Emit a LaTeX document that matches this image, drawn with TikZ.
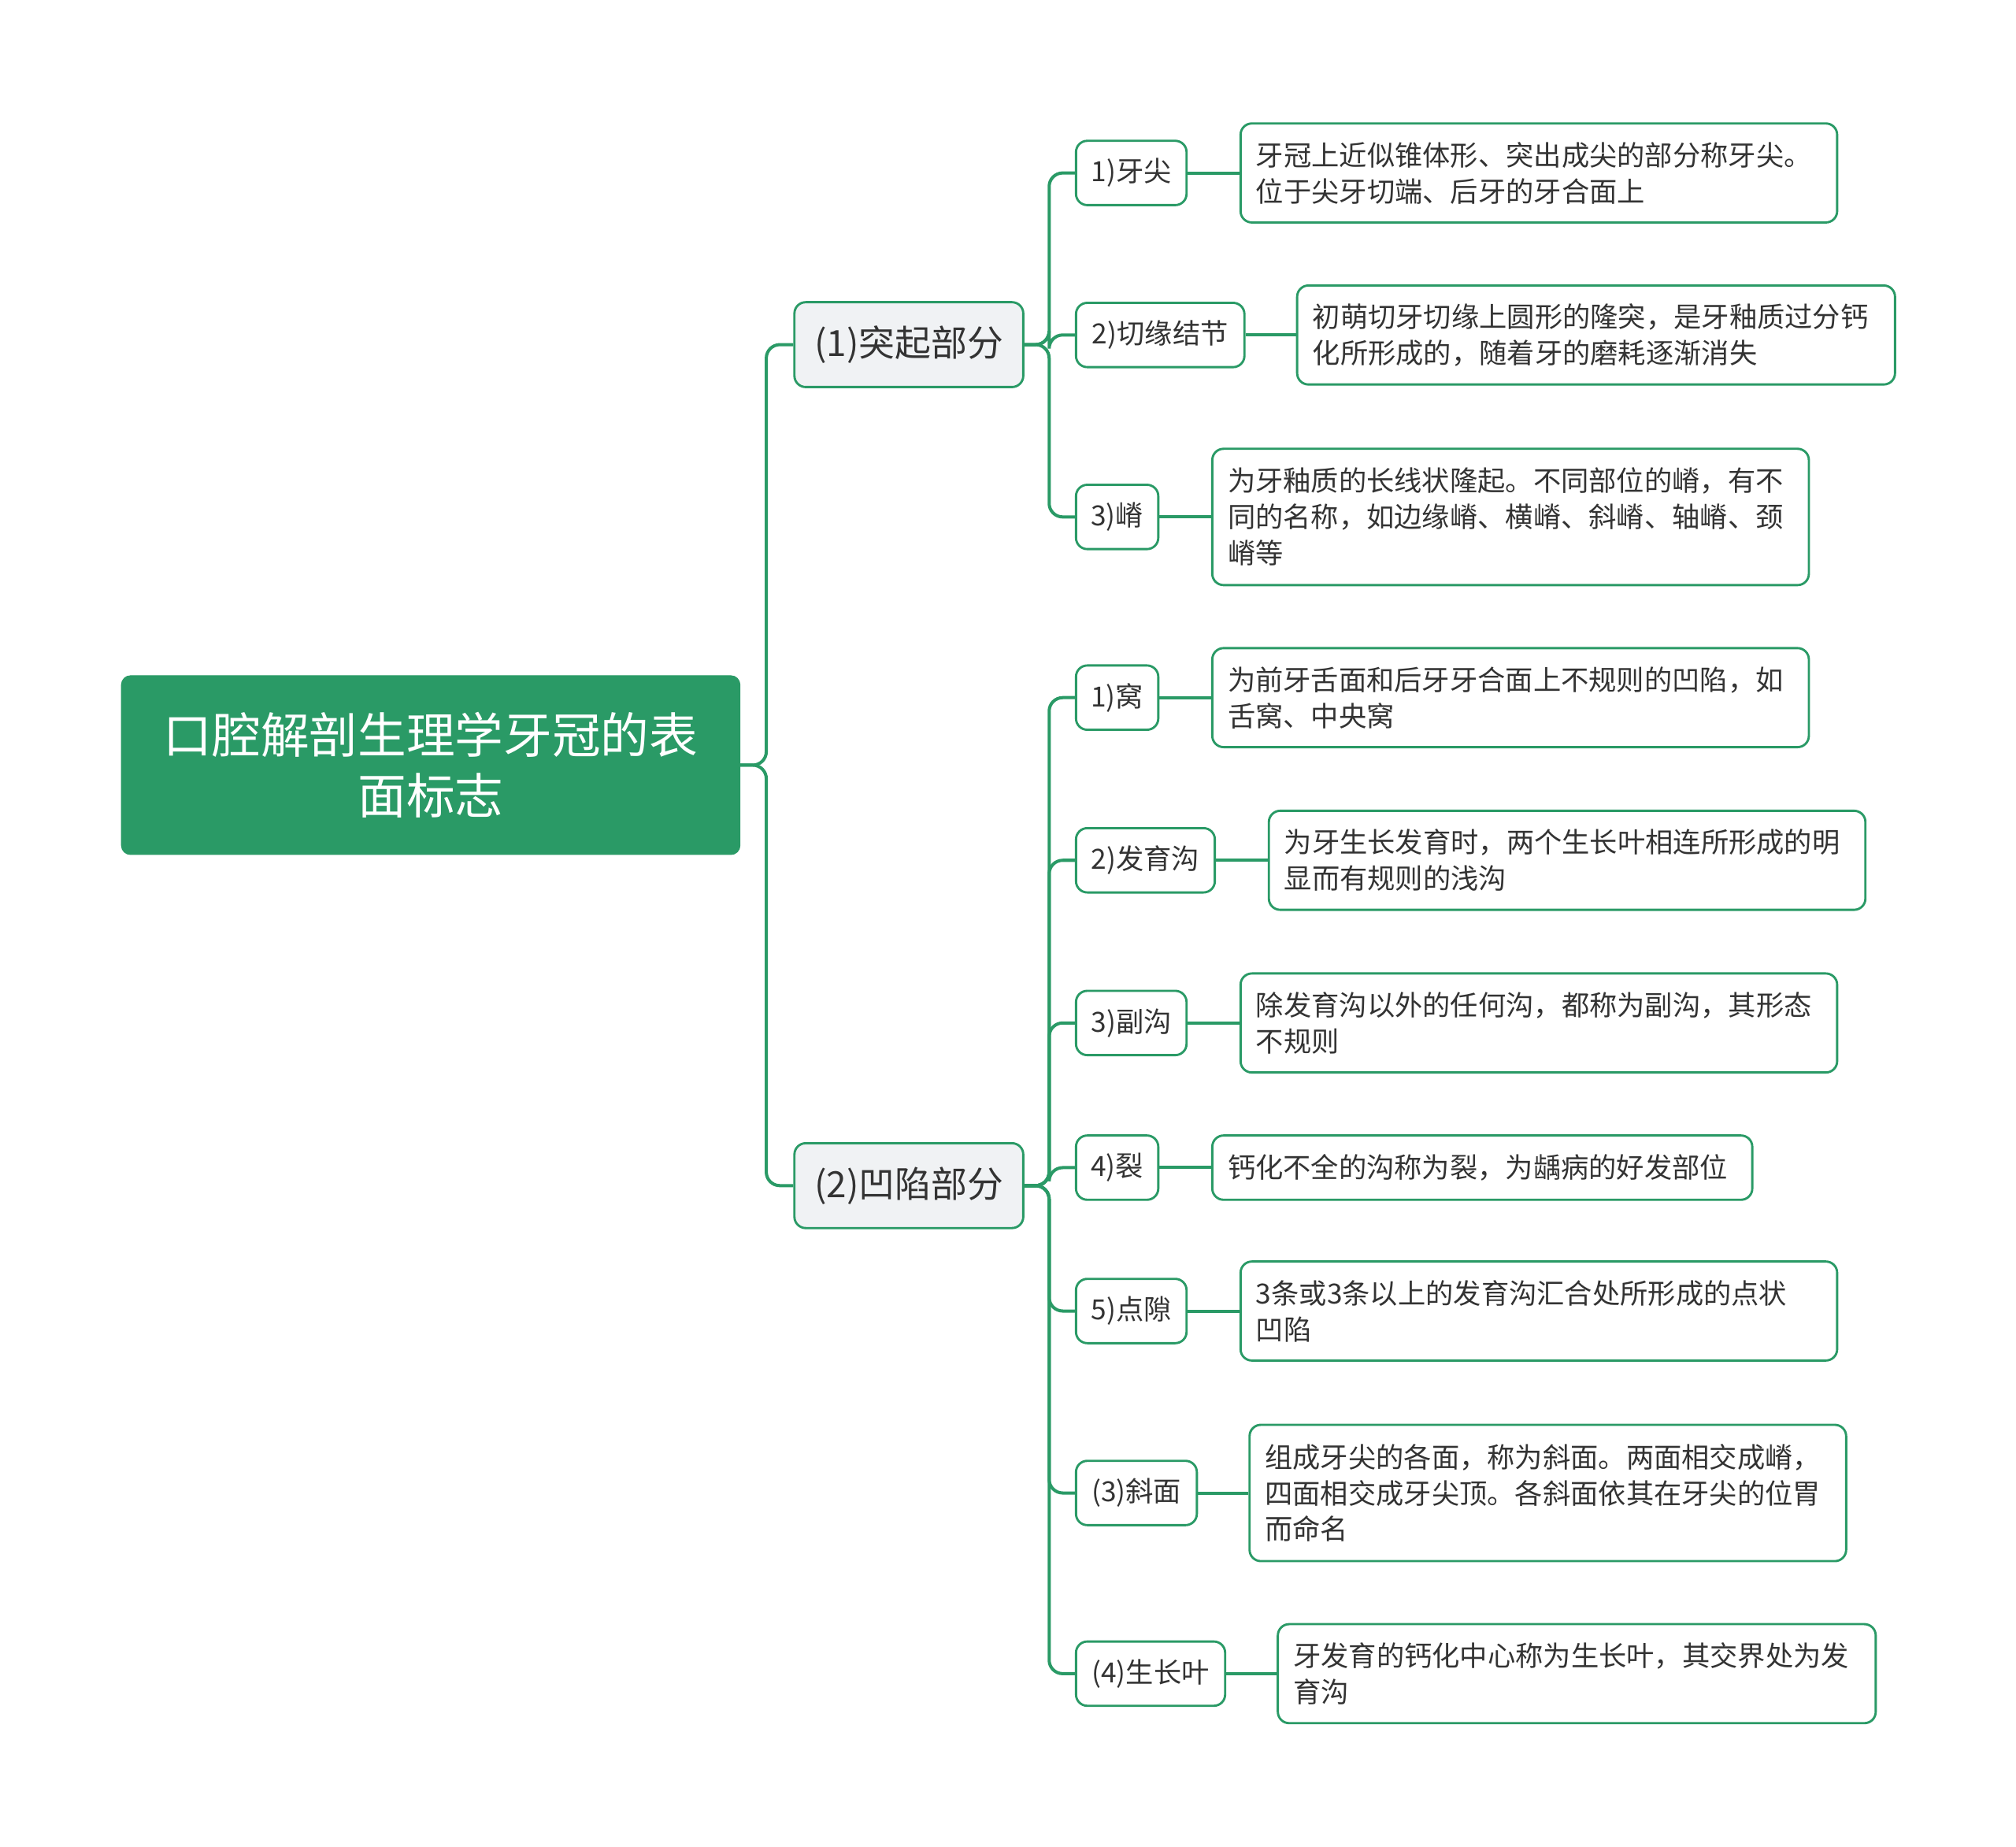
\documentclass[tikz,border=0pt]{standalone}
\usepackage{fontspec}
\setmainfont{Noto Sans CJK SC}
\XeTeXlinebreaklocale "zh"
\XeTeXlinebreakskip=0pt plus 1pt
\definecolor{gr}{HTML}{2A9A66}
\definecolor{lg}{HTML}{F0F2F4}
\definecolor{tx}{HTML}{333333}
\begin{document}
\begin{tikzpicture}[x=0.02cm,y=-0.02cm,
  root/.style={fill=gr,draw=gr,rounded corners=4pt,text=white,align=center,minimum width=481*0.02cm,minimum height=139*0.02cm,font=\fontsize{21.5pt}{27pt}\selectfont},
  lone/.style={fill=lg,draw=gr,line width=1pt,rounded corners=5pt,text=tx,minimum width=178*0.02cm,minimum height=66*0.02cm,font=\fontsize{16pt}{20pt}\selectfont,anchor=west},
  ltwo/.style={fill=white,draw=gr,line width=1pt,rounded corners=5pt,text=tx,minimum height=50*0.02cm,inner xsep=0pt,font=\fontsize{12.3pt}{16pt}\selectfont,anchor=west},
  leaf/.style={fill=white,draw=gr,line width=1pt,rounded corners=5pt,text=tx,align=left,inner xsep=12*0.02cm,inner ysep=6pt,font=\fontsize{12.3pt}{16pt}\selectfont,anchor=west},
  con/.style={draw=gr,line width=1.4pt,rounded corners=6pt}]
\useasboundingbox (0,0) rectangle (1568,1436);
\node[root] (root) at (335,595) {口腔解剖生理学牙冠的表\\面标志};
\node[lone] (a) at (617,268) {(1)突起部分};
\node[lone] (b) at (617,922) {(2)凹陷部分};
\coordinate (j0) at (596,595);
\draw[con] (root.east) -- (j0) |- (a.west);
\draw[con] (root.east) -- (j0) |- (b.west);
\coordinate (ja) at (816,268);
\coordinate (jb) at (816,922);
% L2 nodes
\foreach \n/\y/\w/\t in {a1/134.5/86/1)牙尖, a2/260.5/131/2)切缘结节, a3/402/64/3)嵴}{
  \node[ltwo,minimum width=\w*0.02cm] (\n) at (836,\y) {\t};
  \draw[con] (a.east) -- (ja) |- (\n.west);
}
\foreach \n/\y/\w/\t in {b1/542.5/64/1)窝, b2/669/108/2)发育沟, b3/795.5/86/3)副沟, b4/908/64/4)裂, b5/1019.5/86/5)点隙, b6/1161/94/(3)斜面, b7/1301.5/116/(4)生长叶}{
  \node[ltwo,minimum width=\w*0.02cm] (\n) at (836,\y) {\t};
  \draw[con] (b.east) -- (jb) |- (\n.west);
}
% leaves
\node[leaf,text width=440*0.02cm,minimum height=77*0.02cm] (la1) at (964,134.5) {牙冠上近似锥体形、突出成尖的部分称牙尖。\\位于尖牙切端、后牙的牙合面上};
\node[leaf,text width=441*0.02cm,minimum height=77*0.02cm] (la2) at (1008,260.5) {初萌切牙切缘上圆形的隆突，是牙釉质过分钙\\化所形成的，随着牙的磨耗逐渐消失};
\node[leaf,text width=440*0.02cm,minimum height=106*0.02cm] (la3) at (942,402) {为牙釉质的长线状隆起。不同部位的嵴，有不\\同的名称，如边缘嵴、横嵴、斜嵴、轴嵴、颈\\嵴等};
\node[leaf,text width=440*0.02cm,minimum height=77*0.02cm] (lb1) at (942,542.5) {为前牙舌面和后牙牙合面上不规则的凹陷，如\\舌窝、中央窝};
\node[leaf,text width=440*0.02cm,minimum height=77*0.02cm] (lb2) at (986,669) {为牙生长发育时，两个生长叶相连所形成的明\\显而有规则的浅沟};
\node[leaf,text width=440*0.02cm,minimum height=77*0.02cm] (lb3) at (964,795.5) {除发育沟以外的任何沟，都称为副沟，其形态\\不规则};
\node[leaf,text width=396*0.02cm,minimum height=50*0.02cm] (lb4) at (942,908) {钙化不全的沟称为裂，为龋病的好发部位};
\node[leaf,text width=440*0.02cm,minimum height=77*0.02cm] (lb5) at (964,1019.5) {3条或3条以上的发育沟汇合处所形成的点状\\凹陷};
\node[leaf,text width=440*0.02cm,minimum height=106*0.02cm] (lb6) at (971,1161) {组成牙尖的各面，称为斜面。两面相交成嵴，\\四面相交成牙尖顶。各斜面依其在牙尖的位胃\\而命名};
\node[leaf,text width=441*0.02cm,minimum height=77*0.02cm] (lb7) at (993,1301.5) {牙发育的钙化中心称为生长叶，其交界处为发\\育沟};
\foreach \p/\q in {a1/la1,a2/la2,a3/la3,b1/lb1,b2/lb2,b3/lb3,b4/lb4,b5/lb5,b6/lb6,b7/lb7}
  \draw[con] (\p.east) -- (\q.west);
\end{tikzpicture}
\end{document}
